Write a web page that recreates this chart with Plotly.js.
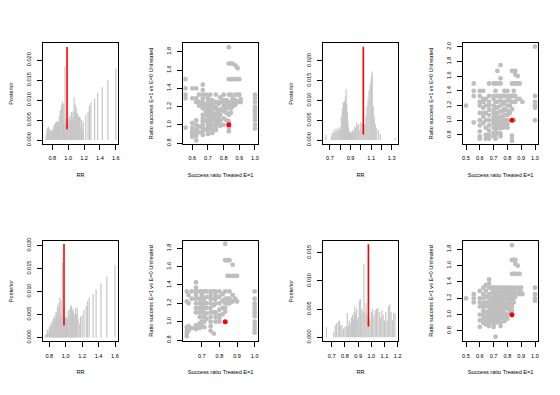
<!DOCTYPE html>
<html><head><meta charset="utf-8">
<script src="https://cdn.plot.ly/plotly-3.0.1.min.js"></script>
<style>html,body{margin:0;padding:0;background:#fff}#chart{width:560px;height:395px}</style>
</head><body><div id="chart"></div>
<script>
// ---------- Panel 1 (top-left): posterior of RR ----------
const rr1 = [0.722,0.733,0.743,0.75,0.76,0.771,0.778,0.786,0.794,0.80,0.81,0.818,0.826,0.833,0.841,0.85,0.857,0.864,0.875,0.882,0.889,0.9,0.909,0.917,0.923,0.929,0.938,0.944,0.952,0.96,0.967,0.975,0.983,0.99,1.0,1.01,1.02,1.03,1.04,1.05,1.06,1.067,1.075,1.083,1.09,1.1,1.11,1.12,1.125,1.13,1.14,1.15,1.16,1.17,1.18,1.19,1.222,1.25,1.267,1.286,1.333,1.37,1.429,1.5,1.6];
const post1 = [0.0013,0.0030,0.0026,0.0033,0.0024,0.0028,0.0020,0.0025,0.0018,0.0022,0.0030,0.0036,0.0026,0.0040,0.0043,0.0046,0.0030,0.0047,0.0045,0.0035,0.0062,0.0075,0.0050,0.0088,0.0060,0.0096,0.0045,0.0090,0.0040,0.0183,0.0055,0.0035,0.0030,0.0045,0.0055,0.0050,0.0060,0.0048,0.0070,0.0055,0.0072,0.0045,0.0107,0.0070,0.0088,0.0080,0.0067,0.0065,0.0040,0.0059,0.0058,0.0055,0.0030,0.0050,0.0025,0.0045,0.0063,0.0071,0.0085,0.0093,0.0104,0.0118,0.0132,0.0150,0.0179];
const red1 = [0.985, 0.0027, 0.0233];

// ---------- Panel 2 (top, 2nd): scatter ----------
const cols2 = [0.556,0.6,0.625,0.643,0.667,0.688,0.7,0.714,0.727,0.75,0.769,0.778,0.8,0.818,0.833,0.846,0.857,0.875,0.889,0.9,0.909,1.0];
const vals2 = [
[1.50,1.40,1.33,1.29,0.97],
[1.40,1.29,1.02,0.97,0.93,0.90,0.87],
[1.40,1.29,1.25,1.05,1.00,0.95,0.91,0.88,0.83],
[1.33,1.25,1.21,0.98,0.92],
[1.44,1.38,1.33,1.29,1.25,1.22,1.18,1.11,1.07,1.04,1.00,0.96,0.93,0.89],
[1.33,1.22,1.20,1.15,1.11,1.05,0.95],
[1.29,1.25,1.21,1.17,1.14,1.11,1.08,1.05,1.02,1.00,0.97,0.94,0.90],
[1.33,1.25,1.19,1.15,1.12,1.09,1.06,1.03,1.00,0.96],
[1.27,1.22,1.18,1.13,1.09,1.05,1.00,0.95,0.91],
[1.33,1.25,1.20,1.17,1.12,1.07,1.04,1.00,0.96,0.94],
[1.23,1.15,1.08,1.03],
[1.30,1.25,1.17,1.11,1.04,0.99],
[1.33,1.27,1.24,1.20,1.15,1.07,1.00],
[1.27,1.23,1.18,1.13,1.05],
[1.85,1.67,1.50,1.33,1.25,1.22,1.19,1.11,1.04,0.97,0.93],
[1.67,1.50,1.33,1.24,1.18,1.13],
[1.67,1.50,1.29,1.25,1.20],
[1.65,1.50,1.33,1.27,1.22],
[1.62,1.50,1.33,1.25],
[1.50,1.33],
[1.28,1.25],
[1.33,1.29,1.25,1.20,1.17,1.14,1.11,1.09,1.05,1.00,0.96]
];
const obs2 = [0.833, 1.0];

// ---------- Panel 3 (top, 3rd): posterior of RR ----------
const rr3 = [0.66,0.714,0.72,0.73,0.74,0.75,0.76,0.77,0.78,0.79,0.8,0.81,0.82,0.83,0.84,0.85,0.857,0.864,0.87,0.875,0.88,0.89,0.9,0.91,0.92,0.93,0.94,0.95,0.96,0.97,0.98,0.99,1.0,1.01,1.02,1.03,1.04,1.05,1.06,1.07,1.08,1.09,1.1,1.105,1.11,1.12,1.13,1.14,1.15,1.17,1.19,1.333];
const post3 = [0.0013,0.0008,0.0015,0.0022,0.0018,0.0028,0.0020,0.0030,0.0025,0.0032,0.0028,0.0060,0.0080,0.0095,0.0098,0.0110,0.0128,0.0090,0.0070,0.0045,0.0030,0.0020,0.0022,0.0018,0.0025,0.0020,0.0035,0.0030,0.0045,0.0038,0.0040,0.0025,0.0045,0.0042,0.0040,0.0038,0.0040,0.0060,0.0085,0.0103,0.0125,0.0140,0.0150,0.0160,0.0173,0.0085,0.0060,0.0040,0.0030,0.0025,0.0015,0.0005];
const red3 = [1.024, 0.0014, 0.0235];

// ---------- Panel 4 (top-right): scatter ----------
const cols4 = [0.5,0.556,0.6,0.625,0.643,0.667,0.7,0.714,0.727,0.75,0.769,0.778,0.8,0.818,0.833,0.846,0.857,0.875,0.889,0.909,1.0];
const vals4 = [
[1.20],
[1.50,1.40,1.33,0.97],
[1.40,1.33,1.25,1.20,1.10,1.00,0.93,0.85,0.78,0.75],
[1.40,1.29,1.25,1.17,1.10,1.05,0.96],
[1.29,1.20,1.10,1.00,0.90,0.80,0.75],
[1.50,1.33,1.25,1.20,1.14,1.07,1.00,0.93,0.86,0.80,0.75],
[1.50,1.33,1.29,1.20,1.14,1.10,1.04,1.00,0.96,0.90,0.83,0.78],
[1.50,1.40,1.25,1.18,1.10,1.06,1.00,0.94,0.88,0.80,0.75],
[1.67,1.50,1.33,1.25,1.17,1.10,1.03,0.96,0.90,0.83],
[1.75,1.57,1.50,1.33,1.27,1.20,1.12,1.05,1.00,0.95,0.89,0.82,0.78],
[1.33,1.22,1.13,1.05,0.97,0.90],
[1.40,1.33,1.25,1.15,1.07,1.00,0.92],
[1.40,1.33,1.27,1.20,1.13,1.07,1.00,0.95,0.90],
[1.33,1.27,1.20,1.10],
[1.67,1.50,1.33,1.25,1.15,0.79,0.75,0.72],
[1.67,1.50,1.40,1.33,1.25,1.00],
[1.67,1.62,1.50,1.33,1.25],
[1.60,1.50,1.29],
[1.50,1.29],
[1.25],
[2.00,1.33,1.25,1.20,1.17,1.00]
];
const obs4 = [0.833, 1.0];

// ---------- Panel 5 (bottom-left): posterior of RR ----------
const rr5 = [0.75,0.765,0.778,0.786,0.8,0.81,0.818,0.826,0.833,0.843,0.85,0.857,0.867,0.875,0.882,0.889,0.9,0.909,0.917,0.923,0.929,0.938,0.944,0.952,0.96,0.967,0.975,0.983,0.99,1.0,1.01,1.02,1.03,1.04,1.05,1.06,1.067,1.075,1.083,1.09,1.1,1.11,1.12,1.13,1.14,1.15,1.17,1.18,1.2,1.222,1.25,1.267,1.286,1.333,1.37,1.429,1.5,1.6];
const post5 = [0.0005,0.0008,0.0018,0.0012,0.0023,0.0020,0.0030,0.0025,0.0035,0.0028,0.0042,0.0033,0.0047,0.0040,0.0055,0.0050,0.0068,0.0045,0.0075,0.0060,0.0087,0.0050,0.0080,0.0045,0.0163,0.0060,0.0045,0.0040,0.0045,0.0045,0.0043,0.0040,0.0058,0.0062,0.0050,0.0068,0.0070,0.0065,0.0055,0.0060,0.0052,0.0048,0.0064,0.0050,0.0065,0.0040,0.0030,0.0045,0.0048,0.0060,0.0069,0.0079,0.0086,0.0094,0.0104,0.0118,0.0132,0.0157];
const red5 = [0.979, 0.0026, 0.0203];

// ---------- Panel 6 (bottom, 2nd): scatter ----------
const cols6 = [0.615,0.625,0.643,0.667,0.688,0.7,0.714,0.727,0.75,0.769,0.778,0.8,0.818,0.833,0.846,0.857,0.875,0.889,0.9,1.0];
const vals6 = [
[1.33,1.22,0.94,0.90,0.87,0.84],
[1.29,1.20,0.95,0.92,0.90],
[1.33,1.25,0.93],
[1.43,1.37,1.33,1.29,1.25,1.20,1.15,1.10,0.96,0.92],
[1.33,1.25,1.20,1.15,1.10,1.05,0.98,0.93],
[1.33,1.29,1.25,1.20,1.17,1.14,1.10,1.05,1.00,0.96],
[1.33,1.25,1.20,1.15,1.10,1.05,1.00,0.94],
[1.33,1.27,1.20,1.15,1.09,1.03],
[1.33,1.29,1.25,1.20,1.15,1.10,1.05,1.00,0.95,0.90],
[1.33,1.25,1.18,1.10,0.87],
[1.33,1.29,1.25,1.20,1.10,1.05,1.00],
[1.33,1.27,1.20,1.13,1.07,1.04,1.00],
[1.30,1.23,1.15,1.08],
[1.85,1.67,1.33,1.25,1.20,1.15,1.11],
[1.67,1.50,1.25,1.20],
[1.67,1.50,1.33,1.25,1.20],
[1.62,1.50,1.29,1.22],
[1.50,1.25],
[1.50,1.22],
[1.33,1.25,1.20,1.17,1.13,1.10,1.06,1.00,0.96,0.92,0.88]
];
const obs6 = [0.833, 1.0];

// ---------- Panel 7 (bottom, 3rd): posterior of RR ----------
const rr7 = [0.66,0.714,0.727,0.737,0.75,0.76,0.769,0.778,0.789,0.8,0.81,0.818,0.826,0.833,0.84,0.85,0.857,0.864,0.87,0.875,0.882,0.889,0.895,0.9,0.909,0.917,0.923,0.929,0.938,0.944,0.952,0.96,0.967,0.975,0.983,0.99,1.0,1.01,1.02,1.03,1.04,1.05,1.06,1.07,1.08,1.09,1.1,1.11,1.12,1.13,1.14,1.15,1.16,1.17,1.18];
const post7 = [0.0018,0.0010,0.0022,0.0025,0.0028,0.0030,0.0020,0.0022,0.0015,0.0018,0.0020,0.0043,0.0020,0.0030,0.0025,0.0035,0.0040,0.0032,0.0045,0.0055,0.0042,0.0050,0.0030,0.0035,0.0065,0.0068,0.0040,0.0050,0.0045,0.0130,0.0045,0.0060,0.0040,0.0030,0.0035,0.0030,0.0045,0.0050,0.0038,0.0048,0.0050,0.0052,0.0045,0.0035,0.0048,0.0040,0.0030,0.0045,0.0030,0.0055,0.0058,0.0045,0.0030,0.0043,0.0042];
const red7 = [0.978, 0.0019, 0.0165];

// ---------- Panel 8 (bottom-right): scatter ----------
const cols8 = [0.5,0.556,0.6,0.625,0.643,0.667,0.688,0.7,0.714,0.727,0.75,0.769,0.778,0.8,0.818,0.833,0.846,0.857,0.875,0.889,0.9,0.909,1.0];
const vals8 = [
[1.20],
[1.25,1.20,1.15],
[1.29,1.20,1.15,1.10,1.00,0.93,0.85],
[1.33,1.25,1.20,1.14,1.10,1.05,1.00,0.95,0.90],
[1.36,1.29,1.22,1.15,1.10,1.03,0.97,0.92,0.88],
[1.43,1.38,1.33,1.25,1.20,1.15,1.10,1.05,1.00,0.95,0.90,0.86],
[1.33,1.27,1.20,1.14,1.08,1.02,0.96,0.91],
[1.33,1.29,1.24,1.18,1.12,1.07,1.02,0.98,0.93,0.89,0.85],
[1.33,1.27,1.21,1.16,1.11,1.05,1.00,0.95,0.90,0.73],
[1.33,1.28,1.22,1.17,1.12,1.07,1.01,0.96,0.91],
[1.33,1.29,1.25,1.20,1.15,1.10,1.05,1.00,0.95,0.90,0.86],
[1.33,1.27,1.21,1.15,1.09,1.03,0.97],
[1.33,1.29,1.25,1.19,1.13,1.08,1.02,0.97,0.92],
[1.33,1.28,1.23,1.18,1.12,1.07,1.00,0.95],
[1.33,1.27,1.20,1.14,1.08,1.02],
[1.85,1.67,1.50,1.33,1.29,1.25,1.20,1.15,1.10,1.05],
[1.67,1.50,1.30,1.25,1.20,1.15],
[1.67,1.62,1.50,1.33,1.27,1.22],
[1.60,1.50,1.33,1.27],
[1.50,1.30,1.25],
[1.33,1.27],
[1.25],
[1.33,1.25,1.20,1.17]
];
const obs8 = [0.833, 1.0];

// ---------- axis ticks / labels ----------
const xTickVals = [[0.8,1.0,1.2,1.4,1.6],[0.6,0.7,0.8,0.9,1.0],[0.7,0.8,0.9,1.0,1.1,1.2,1.3],[0.5,0.6,0.7,0.8,0.9,1.0],
                   [0.8,1.0,1.2,1.4,1.6],[0.7,0.8,0.9,1.0],[0.7,0.8,0.9,1.0,1.1,1.2],[0.5,0.6,0.7,0.8,0.9,1.0]];
const xTickText = [['0.8','1.0','1.2','1.4','1.6'],['0.6','0.7','0.8','0.9','1.0'],['0.7','','0.9','','1.1','','1.3'],['0.5','0.6','0.7','0.8','0.9','1.0'],
                   ['0.8','1.0','1.2','1.4','1.6'],['0.7','0.8','0.9','1.0'],['0.7','0.8','0.9','1.0','1.1','1.2'],['0.5','0.6','0.7','0.8','0.9','1.0']];
const postTicks = [0,0.005,0.010,0.015,0.020];
const postText = ['0.000','0.005','0.010','0.015','0.020'];
const yTickVals = [postTicks,[0.8,1.0,1.2,1.4,1.6,1.8],postTicks,[0.8,1.0,1.2,1.4,1.6,1.8,2.0],
                   postTicks,[0.8,1.0,1.2,1.4,1.6,1.8],[0,0.005,0.010,0.015],[0.8,1.0,1.2,1.4,1.6,1.8]];
const yTickText = [postText,['0.8','1.0','1.2','1.4','1.6','1.8'],postText,['0.8','1.0','1.2','1.4','1.6','1.8','2.0'],
                   postText,['0.8','1.0','1.2','1.4','1.6','1.8'],['0.000','0.005','0.010','0.015'],['0.8','1.0','1.2','1.4','1.6','1.8']];
const xTitles = ['RR','Success ratio Treated E=1','RR','Success ratio Treated E=1','RR','Success ratio Treated E=1','RR','Success ratio Treated E=1'];
const yTitles = ['Posterior','Ratio success E=1 vs E=0 Untreated','Posterior','Ratio success E=1 vs E=0 Untreated','Posterior','Ratio success E=1 vs E=0 Untreated','Posterior','Ratio success E=1 vs E=0 Untreated'];

// ---------- layout geometry ----------
const xRanges = [[0.686,1.625],[0.5426,1.018],[0.635,1.359],[0.4804,1.0203],[0.727,1.634],[0.595,1.018],[0.636,1.201],[0.4804,1.0203]];
const yRanges = [[-0.0009,0.0242],[0.795,1.892],[-0.0009,0.0244],[0.683,2.046],[-0.0008,0.021],[0.788,1.882],[-0.00067,0.0171],[0.676,1.904]];
const W = 560, H = 395;
const colLeft = [43.3,183.3,323.3,463.3], plotW = 74.5;
const rowTop = [43.3,240.8], plotH = 100.3;

const FONT = 'Liberation Sans, Arial, Helvetica, sans-serif';
const FS = 5.6;
const GRAY = '#bebebe';
const STEM = '#c6c6c6';
const RED = '#ff0000';

const hists = {1:[rr1,post1,red1],3:[rr3,post3,red3],5:[rr5,post5,red5],7:[rr7,post7,red7]};
const scats = {2:[cols2,vals2,obs2],4:[cols4,vals4,obs4],6:[cols6,vals6,obs6],8:[cols8,vals8,obs8]};

const traces = [];
const layout = {width:W,height:H,margin:{l:0,r:0,t:0,b:0},paper_bgcolor:'#fff',plot_bgcolor:'#fff',
  showlegend:false,font:{family:FONT,size:FS,color:'#000'}};

function axBase(){
  return {showline:true,mirror:true,linecolor:'#000',linewidth:1,ticks:'outside',ticklen:5,tickwidth:1,
    tickcolor:'#000',showgrid:false,zeroline:false,tickmode:'array',automargin:false,fixedrange:true,
    tickfont:{family:FONT,size:FS,color:'#000'}};
}

for(let n=1;n<=8;n++){
  const i=n-1, col=i%4, row=Math.floor(i/4);
  const xa = n===1?'x':'x'+n, ya = n===1?'y':'y'+n;
  const xk = n===1?'xaxis':'xaxis'+n, yk = n===1?'yaxis':'yaxis'+n;
  layout[xk] = Object.assign(axBase(),{
    domain:[colLeft[col]/W,(colLeft[col]+plotW)/W], anchor:ya, range:xRanges[i],
    tickvals:xTickVals[i], ticktext:xTickText[i], ticklabelstandoff:4,
    title:{text:xTitles[i],font:{family:FONT,size:FS,color:'#000'},standoff:12}});
  layout[yk] = Object.assign(axBase(),{
    domain:[1-(rowTop[row]+plotH)/H,1-rowTop[row]/H], anchor:xa, range:yRanges[i],
    tickvals:yTickVals[i], ticktext:yTickText[i], tickangle:-90, ticklabelstandoff:4,
    title:{text:yTitles[i],font:{family:FONT,size:FS,color:'#000'},standoff:12}});
  if(hists[n]){
    const [rr,p,red] = hists[n];
    const sx=[], sy=[];
    rr.forEach((r,k)=>{sx.push(r,r,null); sy.push(0,p[k],null);});
    traces.push({type:'scatter',mode:'lines',x:sx,y:sy,xaxis:xa,yaxis:ya,
      line:{color:STEM,width:1.2},hoverinfo:'skip'});
    traces.push({type:'scatter',mode:'lines',x:[red[0],red[0]],y:[red[1],red[2]],xaxis:xa,yaxis:ya,
      line:{color:RED,width:1.6},hoverinfo:'skip'});
  } else {
    const [cols,vals,obs] = scats[n];
    const px=[], py=[];
    cols.forEach((c,k)=>vals[k].forEach(v=>{px.push(c); py.push(v);}));
    traces.push({type:'scatter',mode:'markers',x:px,y:py,xaxis:xa,yaxis:ya,
      marker:{color:GRAY,size:4.8,line:{width:0}},hoverinfo:'skip'});
    traces.push({type:'scatter',mode:'markers',x:[obs[0]],y:[obs[1]],xaxis:xa,yaxis:ya,
      marker:{color:RED,size:5,line:{width:0}},hoverinfo:'skip'});
  }
}

Plotly.newPlot('chart',traces,layout,{staticPlot:true,displayModeBar:false});
</script></body></html>
